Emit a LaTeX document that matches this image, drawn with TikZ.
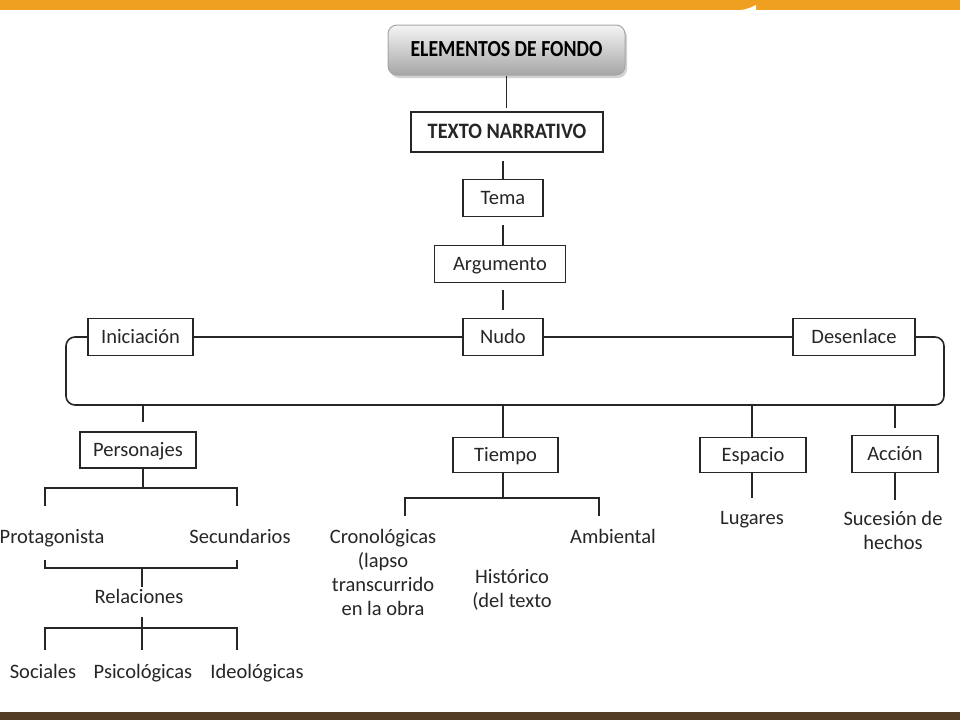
\documentclass[tikz,border=0pt]{standalone}
\usepackage{fontspec}
\setmainfont{Carlito}
\usetikzlibrary{shadows}
\definecolor{barorange}{HTML}{F0A020}
\definecolor{barbrown}{HTML}{523D27}
\definecolor{ink}{HTML}{262626}
\tikzset{
  box/.style={draw=ink, line width=1.6pt, fill=white, minimum height=36pt, inner sep=2pt, font=\fontsize{20.5}{24}\selectfont, text=ink, text height=15pt, text depth=3pt},
  lbl/.style={font=\fontsize{20.5}{24}\selectfont, text=ink, align=center, inner sep=0pt, text height=15pt, text depth=3pt},
  mlbl/.style={font=\fontsize{20.5}{24}\selectfont, text=ink, align=center, inner sep=0pt, anchor=north},
  conn/.style={draw=ink, line width=1.6pt},
  bigbox/.style={draw=gray!70, line width=1pt, rounded corners=9pt, top color=gray!8, bottom color=gray!70,
     drop shadow={shadow xshift=2pt, shadow yshift=-3pt, opacity=0.35}, minimum width=237pt, minimum height=50pt,
     font=\bfseries\fontsize{23}{26}\selectfont, text height=16pt, text depth=3pt}
}
\begin{document}
\begin{tikzpicture}[x=1pt,y=-1pt]
\useasboundingbox (0,0) rectangle (960,720);
\fill[white] (0,0) rectangle (960,720);
\fill[barorange] (0,0) rectangle (960,10);
\fill[white] (741,10) .. controls (748,9) and (752,7) .. (756,5) -- (756,10) -- cycle;
\fill[barbrown] (0,712) rectangle (960,720);

% top chain
\node[bigbox] (elem) at (506.5,50) {\scalebox{0.86}[1]{ELEMENTOS DE FONDO}};
\node[box, minimum width=192pt, minimum height=40pt, font=\bfseries\fontsize{22}{24}\selectfont] (texto) at (507,132) {\scalebox{0.92}[1]{TEXTO NARRATIVO}};
\node[box, minimum width=80pt, minimum height=37pt] (tema) at (503,198) {Tema};
\node[box, minimum width=131pt, minimum height=37pt] (arg) at (500,264) {Argumento};
\node[box, minimum width=105pt, minimum height=37pt] (ini) at (140.5,337) {Iniciación};
\node[box, minimum width=80pt, minimum height=37pt] (nudo) at (503,337) {Nudo};
\node[box, minimum width=122pt, minimum height=37pt] (des) at (854,337) {Desenlace};

\draw[conn] (elem.south) -- ++(0,32);
\draw[conn] (texto.south) ++(-4,8) -- (tema.north -| 503,0);
\draw[conn] (503,225) -- (arg.north -| 503,0);
\draw[conn] (503,290) -- (503,310);

\draw[conn] (ini.east) -- (nudo.west);
\draw[conn] (nudo.east) -- (des.west);
\draw[conn, rounded corners=9pt] (ini.west) -- (66,337) -- (66,405) -- (944,405) -- (944,337) -- (des.east);

% second level
\node[box, minimum width=116pt, minimum height=36pt] (pers) at (138,450) {Personajes};
\node[box, minimum width=105pt, minimum height=35pt] (tiempo) at (505.5,455) {Tiempo};
\node[box, minimum width=106pt, minimum height=35pt] (espacio) at (753,455) {Espacio};
\node[box, minimum width=86pt, minimum height=37pt] (accion) at (895,454) {Acción};

\coordinate (bp) at (143,405);
\coordinate (bt) at (503,405);
\coordinate (be) at (752,405);
\coordinate (ba) at (895,405);
\draw[conn] (bp) -- (143,422);
\draw[conn] (bt) -- (503,437);
\draw[conn] (be) -- (752,437);
\draw[conn] (ba) -- (895,428);

% Personajes subtree
\node[lbl] (prot) at (52,537) {Protagonista};
\node[lbl] (sec) at (240,537) {Secundarios};
\node[lbl] (rel) at (139,597) {Relaciones};
\node[lbl] (soc) at (43,672) {Sociales};
\node[lbl] (psi) at (143,672) {Psicológicas};
\node[lbl] (ide) at (257,672) {Ideológicas};
\coordinate (pj) at (143,488);
\draw[conn] (pers.south -| pj) -- (pj);
\draw[conn] (45,506) -- (45,488) -- (237,488) -- (237,506);
\coordinate (rj) at (142,568);
\draw[conn] (45,560) -- (45,568) -- (237,568) -- (237,560);
\draw[conn] (rj) -- (142,587);
\coordinate (sj) at (142,628);
\draw[conn] (142,617) -- (142,650);
\draw[conn] (45,650) -- (45,628) -- (237,628) -- (237,650);

% Tiempo subtree
\node[mlbl] (cron) at (383,529) {Cronológicas\\(lapso\\transcurrido\\en la obra};
\node[lbl] (amb) at (613,537) {Ambiental};
\node[mlbl] (his) at (512,569) {Histórico\\(del texto};
\coordinate (tj) at (503,498);
\draw[conn] (tiempo.south -| tj) -- (tj);
\draw[conn] (405,516) -- (405,498) -- (599,498) -- (599,516);

% Espacio / Accion
\node[lbl] (lug) at (752,518) {Lugares};
\node[mlbl] (suc) at (893,511) {Sucesión de\\hechos};
\draw[conn] (espacio.south -| 752,0) -- (752,498);
\draw[conn] (accion.south -| 895,0) -- (895,500);
\end{tikzpicture}
\end{document}
